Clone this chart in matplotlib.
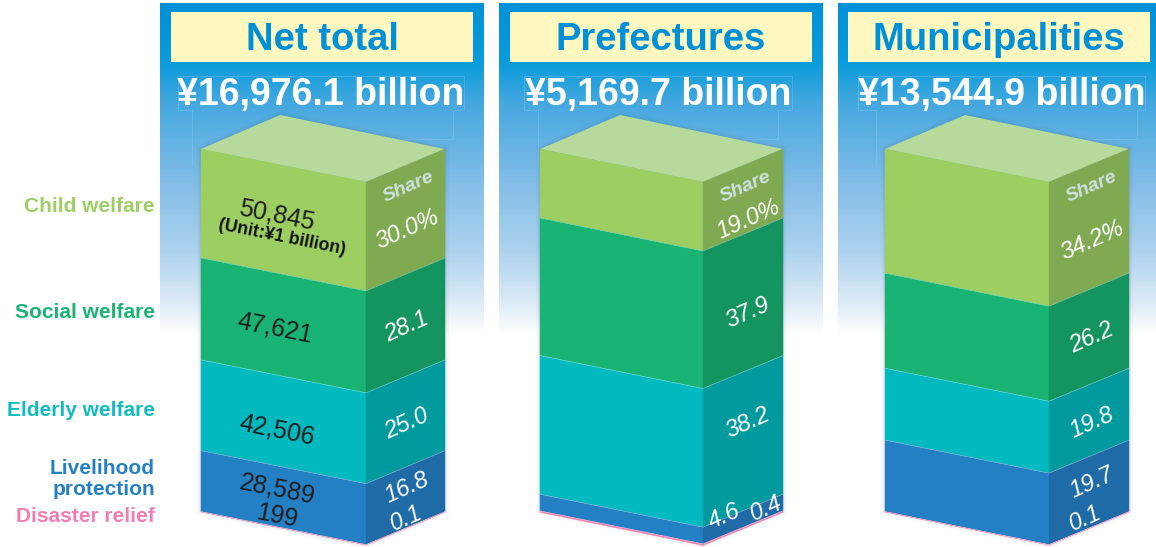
import numpy as np
import matplotlib.pyplot as plt
from matplotlib.colors import LinearSegmentedColormap
from matplotlib.patches import Polygon, Rectangle

# data
categories = ['Child welfare', 'Social welfare', 'Elderly welfare', 'Livelihood\nprotection', 'Disaster relief']
titles = ['Net total', 'Prefectures', 'Municipalities']
totals = ['¥16,976.1 billion', '¥5,169.7 billion', '¥13,544.9 billion']
net_share = [30.0, 28.1, 25.0, 16.8, 0.1]
pref_share = [19.0, 37.9, 38.2, 4.6, 0.4]
muni_share = [34.2, 26.2, 19.8, 19.7, 0.1]
net_amount = [50845, 47621, 42506, 28589, 199]
net_labels = ['30.0%', '28.1', '25.0', '16.8', '0.1']
pref_labels = ['19.0%', '37.9', '38.2', '4.6', '0.4']
muni_labels = ['34.2%', '26.2', '19.8', '19.7', '0.1']

# colours
front = ['#9DCE62', '#19B374', '#00BAC0', '#2480C4', '#F27DB0']
side = ['#80AA52', '#14945F', '#009A9F', '#1F6BA8', '#F27DB0']
top_col = '#B5DA9B'
label_col = ['#9DCE62', '#19B374', '#10BCC2', '#2480C4', '#F27DB0']

# layout in pixels
W, H = 1156, 547
font = 'Liberation Sans'
y_top = 149
px_per_pct = 3.63
dip_front = 33
dip_back = 34
slope_front = -11.3
slope_side = 24

fig = plt.figure(figsize=(W / 100, H / 100), dpi=100)
ax = fig.add_axes([0, 0, 1, 1])
ax.set_xlim(0, W)
ax.set_ylim(H, 0)
ax.axis('off')

grad = LinearSegmentedColormap.from_list('bg', [
    (0.0, '#0090D8'), (0.18, '#0A9CDB'), (0.3, '#45A8DF'), (0.55, '#85BEE8'),
    (0.75, '#ADD2EE'), (0.9, '#DCEAF7'), (1.0, '#FFFFFF')])
gy = np.linspace(0, 1, 256).reshape(-1, 1)


def draw_panel(x0, x1, box0, box1, xl, xc, xr, shares, labels, title, total, outline, label_pos):
    ax.imshow(gy, cmap=grad, extent=[x0, x1, 335, 3], aspect='auto', zorder=1)
    ax.add_patch(Rectangle((box0, 12), box1 - box0, 50, fc='#FEF8C0', ec='none', zorder=2))
    ax.text((box0 + box1) / 2, 40, title, family=font, weight='bold', fontsize=27.5, color='#0090D8',
            ha='center', va='center', zorder=3)
    ax.text((outline[0] + outline[3]) / 2, 95, total, family=font, weight='bold', fontsize=27, color='white',
            ha='center', va='center', zorder=3)

    # thin outline left around the amount text
    ol, il, ir, or_ = outline
    ax.plot([il, il, ol, ol, or_, or_, ir, ir, ir - 50], [165, 110, 110, 76, 76, 110, 110, 139, 139],
            color='#9CCCEE', lw=0.5, alpha=0.45, zorder=2)

    xb = xl + xr - xc
    # soft shadow round the block
    outer = [(xl, y_top), (xb, y_top - dip_back), (xr, y_top), (xr, 511), (xc, 511 + dip_back), (xl, 511)]
    for lw, a in [(6, 0.03), (3, 0.05), (1.5, 0.06)]:
        ax.add_patch(Polygon(outer, closed=True, fc='none', ec='#40506A', lw=lw, alpha=a, zorder=4))

    ax.add_patch(Polygon([(xl, y_top), (xb, y_top - dip_back), (xr, y_top), (xc, y_top + dip_front)],
                         closed=True, fc=top_col, ec='none', zorder=5))
    y = y_top
    for i, s in enumerate(shares):
        h = s * px_per_pct
        ax.add_patch(Polygon([(xl, y), (xc, y + dip_front), (xc, y + dip_front + h), (xl, y + h)],
                             closed=True, fc=front[i], ec=front[i], lw=0.3, zorder=5))
        ax.add_patch(Polygon([(xc, y + dip_front), (xr, y), (xr, y + h), (xc, y + dip_front + h)],
                             closed=True, fc=side[i], ec=side[i], lw=0.3, zorder=5))
        if i < len(shares) - 1 and h > 5:
            ax.plot([xl, xc, xr], [y + h, y + h + dip_front, y + h], color='white', lw=0.5, alpha=0.4, zorder=6)
        y += h

    ax.text(xc + 43, 187, 'Share', family=font, weight='bold', style='italic', fontsize=14, color='#CDE2DF',
            rotation=slope_side, rotation_mode='anchor', ha='center', va='center', zorder=7)
    for lab, (lx, ly) in zip(labels, label_pos):
        ax.text(lx, ly, lab, family=font, style='italic', fontsize=17, color='white',
                rotation=slope_side, rotation_mode='anchor', ha='center', va='center', zorder=7)


draw_panel(160, 484, 171, 473, 201, 366, 445, net_share, net_labels, titles[0], totals[0],
           (178, 192, 453, 464), [(407, 229), (407, 327), (407, 424), (407, 488), (406, 518)])
draw_panel(499, 823, 510, 812, 540, 703, 783, pref_share, pref_labels, titles[1], totals[1],
           (524, 538, 778, 792), [(748, 219), (748, 313), (748, 423), (724, 516), (766, 508)])
draw_panel(838, 1156, 848, 1150, 885, 1049, 1129, muni_share, muni_labels, titles[2], totals[2],
           (858, 876, 1137, 1145), [(1092, 240), (1092, 338), (1092, 423), (1092, 483), (1085, 518)])

# amounts on the front of the net total block
amount_pos = [(277, 215), (275, 328), (277, 430), (277, 489), (277, 516)]
for val, (ax_x, ax_y) in zip(net_amount, amount_pos):
    ax.text(ax_x, ax_y, f'{val:,}', family=font, fontsize=18, color='#1E1E1E', rotation=slope_front,
            rotation_mode='anchor', ha='center', va='center', zorder=7)
ax.text(282, 237, '(Unit:¥1 billion)', family=font, weight='bold', fontsize=12.8, color='#111111',
        rotation=slope_front, rotation_mode='anchor', ha='center', va='center', zorder=7)

# category names on the left
cat_y = [206, 313, 410, 479, 517]
for name, col, cy in zip(categories, label_col, cat_y):
    ax.text(155, cy, name, family=font, weight='bold', fontsize=15, color=col, ha='right', va='center',
            linespacing=1.15, zorder=7)

fig.savefig('out.png', dpi=100)
